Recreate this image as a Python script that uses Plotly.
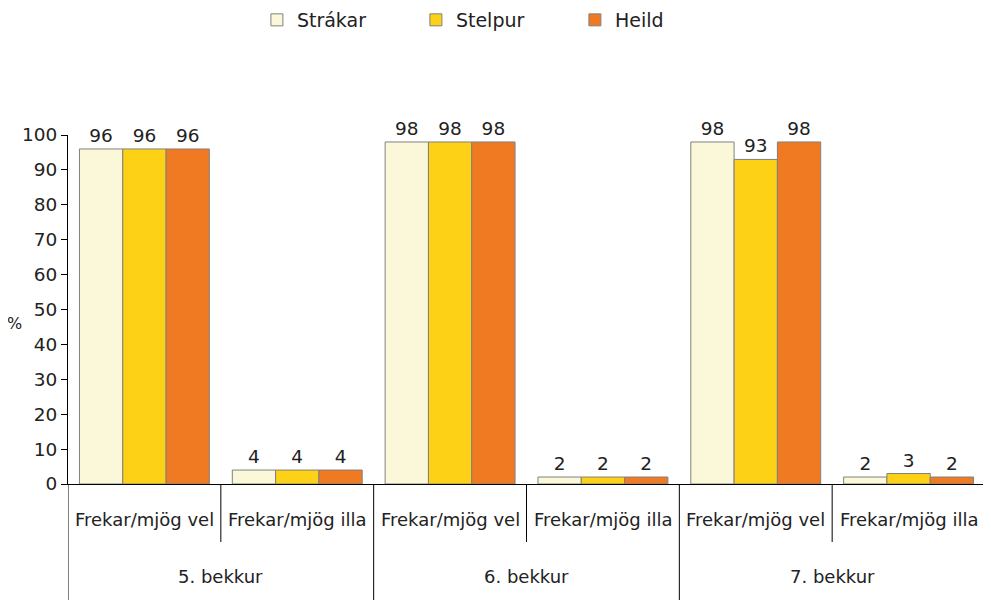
import plotly.graph_objects as go

grades = ["5. bekkur", "6. bekkur", "7. bekkur"]
answers = ["Frekar/mjög vel", "Frekar/mjög illa"]
boys = [96, 4, 98, 2, 98, 2]
girls = [96, 4, 98, 2, 93, 3]
total = [96, 4, 98, 2, 98, 2]

series = [
    ("Strákar", boys, "#FAF8D9"),
    ("Stelpur", girls, "#FCD116"),
    ("Heild", total, "#F07A22"),
]

xpos = list(range(len(grades) * len(answers)))

fig = go.Figure()
for name, vals, color in series:
    fig.add_trace(
        go.Bar(
            name=name,
            x=xpos,
            y=vals,
            marker=dict(color=color, line=dict(color="#808080", width=1)),
            text=vals,
            textposition="outside",
            textfont=dict(size=18.5, color="#222"),
            cliponaxis=False,
        )
    )

# the page body adds an 8px offset, margins are set with that in mind
plot_h = 600 - 127 - 124

# inner / outer category labels and dividers drawn under the axis
for i, x in enumerate(xpos):
    fig.add_annotation(
        text=answers[i % 2], x=x, xref="x", y=-35 / plot_h, yref="paper",
        showarrow=False, font=dict(size=18), yanchor="middle",
    )
for g, name in enumerate(grades):
    fig.add_annotation(
        text=name, x=2 * g + 0.5, xref="x", y=-92 / plot_h, yref="paper",
        showarrow=False, font=dict(size=18), yanchor="middle",
    )
for b in [-0.5, 1.5, 3.5, 5.5]:
    fig.add_shape(type="line", x0=b, x1=b, xref="x", y0=0, y1=-0.34, yref="paper",
                  line=dict(color="black", width=1))
for b in [0.5, 2.5, 4.5]:
    fig.add_shape(type="line", x0=b, x1=b, xref="x", y0=0, y1=-58 / plot_h, yref="paper",
                  line=dict(color="black", width=1))

fig.update_layout(
    barmode="group",
    bargap=0.15,
    bargroupgap=0,
    width=991,
    height=600,
    margin=dict(l=60, r=14, t=127, b=124, autoexpand=False),
    plot_bgcolor="white",
    paper_bgcolor="white",
    font=dict(family="DejaVu Sans", size=18, color="#222"),
    legend=dict(
        orientation="h",
        x=0.206,
        xanchor="left",
        y=1 - 12 / 600,
        yref="container",
        yanchor="middle",
        entrywidth=114,
        font=dict(size=19),
    ),
)
fig.update_yaxes(
    range=[0, 100],
    dtick=10,
    showgrid=False,
    showline=True,
    linecolor="black",
    ticks="outside",
    ticklen=6,
    tickcolor="black",
    tickfont=dict(size=18.5),
    zeroline=False,
    automargin=False,
)
fig.update_xaxes(
    range=[-0.5, 5.5],
    showline=True,
    linecolor="black",
    showgrid=False,
    showticklabels=False,
    zeroline=False,
    automargin=False,
)
fig.add_annotation(
    text="%", xref="paper", yref="paper", x=-0.0578, y=0.461, showarrow=False,
    font=dict(size=16), xanchor="center",
)

fig.write_html("out.html")
